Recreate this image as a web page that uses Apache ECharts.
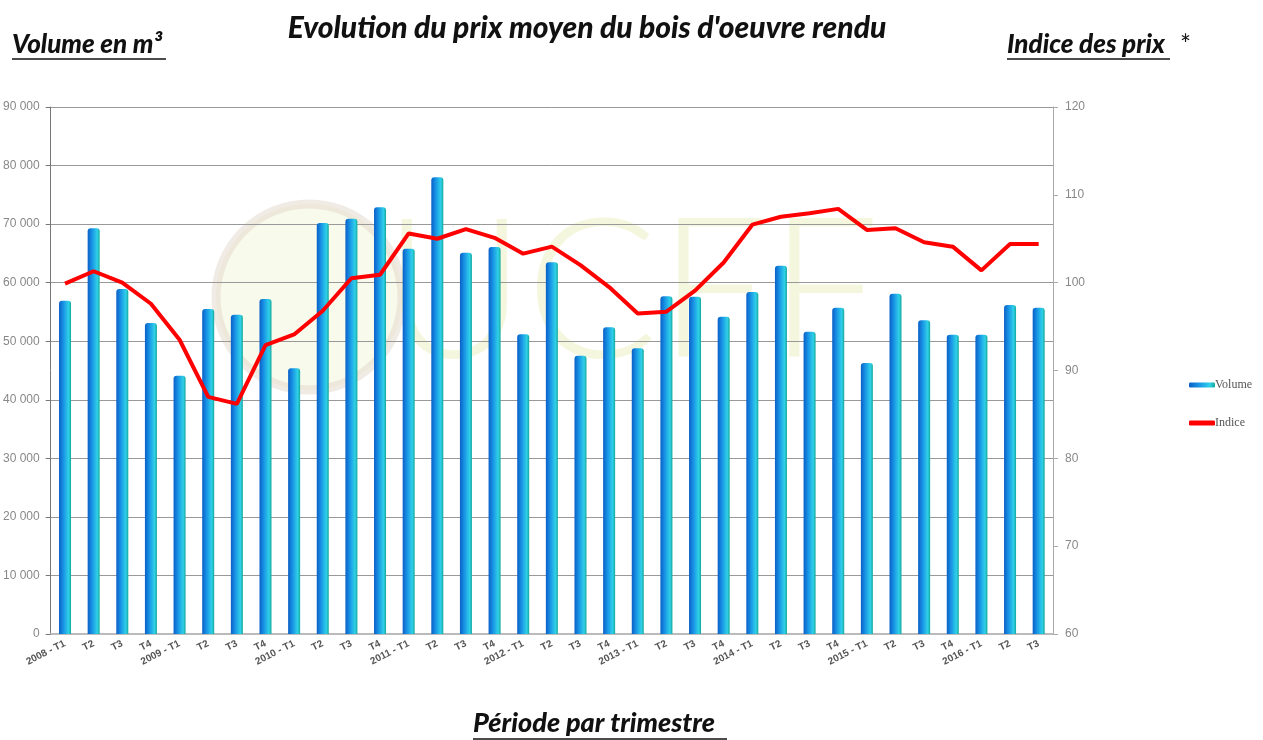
<!DOCTYPE html>
<html>
<head>
<meta charset="utf-8">
<script src="https://cdn.jsdelivr.net/npm/echarts@6/dist/echarts.min.js"></script>
<style>
html,body{margin:0;padding:0;background:#fff;}
#chart{width:1263px;height:740px;}
</style>
</head>
<body>
<div id="chart"></div>
<script>
const categories = [
  "2008 - T1","T2","T3","T4",
  "2009 - T1","T2","T3","T4",
  "2010 - T1","T2","T3","T4",
  "2011 - T1","T2","T3","T4",
  "2012 - T1","T2","T3","T4",
  "2013 - T1","T2","T3","T4",
  "2014 - T1","T2","T3","T4",
  "2015 - T1","T2","T3","T4",
  "2016 - T1","T2","T3"
];
const volume = [
  56900, 69300, 58900, 53100,
  44100, 55500, 54500, 57200,
  45400, 70200, 70900, 72900,
  65800, 78000, 65100, 66100,
  51200, 63500, 47500, 52400,
  48800, 57700, 57600, 54200,
  58400, 62900, 51600, 55700,
  46300, 58100, 53600, 51100,
  51100, 56200, 55700
];
const indice = [
  99.9, 101.3, 100.0, 97.6,
  93.5, 87.0, 86.2, 92.9,
  94.1, 96.8, 100.5, 100.9,
  105.6, 105.0, 106.1, 105.1,
  103.3, 104.1, 102.0, 99.5,
  96.5, 96.7, 99.1, 102.3,
  106.6, 107.5, 107.9, 108.4,
  106.0, 106.2, 104.6, 104.1,
  101.4, 104.4, 104.4
];
const leftTicks = {min: 0, max: 90000, interval: 10000};
const rightTicks = {min: 60, max: 120, interval: 10};

const chart = echarts.init(document.getElementById('chart'));
const titleFont = 'Lato, "Open Sans", sans-serif';
chart.setOption({
  animation: false,
  backgroundColor: '#ffffff',
  title: {
    text: "Evolution du prix moyen du bois d'oeuvre rendu",
    left: 582, top: 8, textAlign: 'center',
    textStyle: {fontFamily: titleFont, fontSize: 30, fontWeight: 900, fontStyle: 'italic', color: '#111'}
  },
  graphic: [
    {type: 'circle', shape: {cx: 309, cy: 297, r: 93}, z: -10, silent: true,
      style: {fill: 'rgba(236,240,200,0.35)', stroke: 'rgba(220,205,190,0.4)', lineWidth: 9}},
    {type: 'text', left: 383, top: 196, z: -10, silent: true,
      style: {text: 'UCFF', font: '300 196px Lato, sans-serif', fill: 'rgba(228,234,170,0.40)'}},
    {type: 'text', left: 12, top: 32,
      style: {text: 'Volume en m³', font: 'italic 900 26px ' + titleFont, fill: '#111'}},
    {type: 'line', shape: {x1: 12, y1: 59, x2: 166, y2: 59}, style: {stroke: '#111', lineWidth: 1.5}},
    {type: 'text', left: 1007, top: 32,
      style: {text: 'Indice des prix', font: 'italic 900 26px ' + titleFont, fill: '#111'}},
    {type: 'text', left: 1180, top: 33,
      style: {text: '*', font: '26px ' + titleFont, fill: '#111'}},
    {type: 'line', shape: {x1: 1007, y1: 59, x2: 1170, y2: 59}, style: {stroke: '#111', lineWidth: 1.5}},
    {type: 'text', left: 473, top: 710,
      style: {text: 'Période par trimestre', font: 'italic 900 27px ' + titleFont, fill: '#111'}},
    {type: 'line', shape: {x1: 473, y1: 739, x2: 727, y2: 739}, style: {stroke: '#111', lineWidth: 1.5}}
  ],
  legend: {
    orient: 'vertical', left: 1184, top: 374, itemGap: 26,
    itemWidth: 26, itemHeight: 5,
    textStyle: {fontFamily: '"Liberation Serif", serif', fontSize: 12, color: '#555', padding: [0,0,0,-5]},
    data: [
      {name: 'Volume', icon: 'roundRect'},
      {name: 'Indice', icon: 'roundRect'}
    ]
  },
  grid: {left: 50, right: 210, top: 107, bottom: 106, containLabel: false},
  xAxis: {
    type: 'category', data: categories,
    axisLine: {lineStyle: {color: '#bbbbbb', width: 2}},
    axisTick: {show: false},
    axisLabel: {interval: 0, rotate: 27, fontSize: 10, fontWeight: 'bold', color: '#555', margin: 9,
      fontFamily: '"Liberation Sans", Arial, sans-serif'}
  },
  yAxis: [
    {type: 'value', min: leftTicks.min, max: leftTicks.max, interval: leftTicks.interval, position: 'left',
      axisLine: {show: true, lineStyle: {color: '#777', width: 1}},
      axisTick: {show: true, length: 5, lineStyle: {color: '#777'}},
      axisLabel: {color: '#888', fontSize: 12, margin: 11, fontFamily: '"Liberation Sans", Arial, sans-serif',
        formatter: v => v === 0 ? '0' : String(v).replace(/\B(?=(\d{3})+(?!\d))/g, ' ')},
      splitLine: {show: true, lineStyle: {color: '#999', width: 1}}
    },
    {type: 'value', min: rightTicks.min, max: rightTicks.max, interval: rightTicks.interval, position: 'right',
      axisLine: {show: true, lineStyle: {color: '#aaa', width: 1}},
      axisTick: {show: true, length: 5, lineStyle: {color: '#aaa'}},
      axisLabel: {color: '#888', fontSize: 12, margin: 12, fontFamily: '"Liberation Sans", Arial, sans-serif'},
      splitLine: {show: false}
    }
  ],
  series: [
    {name: 'Volume', type: 'bar', yAxisIndex: 0, data: volume, barWidth: 12,
      itemStyle: {
        color: new echarts.graphic.LinearGradient(0, 0, 1, 0, [
          {offset: 0, color: '#0a5fc8'},
          {offset: 0.4, color: '#1a98e6'},
          {offset: 0.8, color: '#30d0e8'},
          {offset: 1, color: '#12a89c'}
        ]),
        borderRadius: [3, 3, 0, 0]
      }
    },
    {name: 'Indice', type: 'line', yAxisIndex: 1, data: indice,
      symbol: 'none', lineStyle: {color: '#ff0000', width: 4}, itemStyle: {color: '#ff0000'}, z: 5}
  ]
});
</script>
</body>
</html>
